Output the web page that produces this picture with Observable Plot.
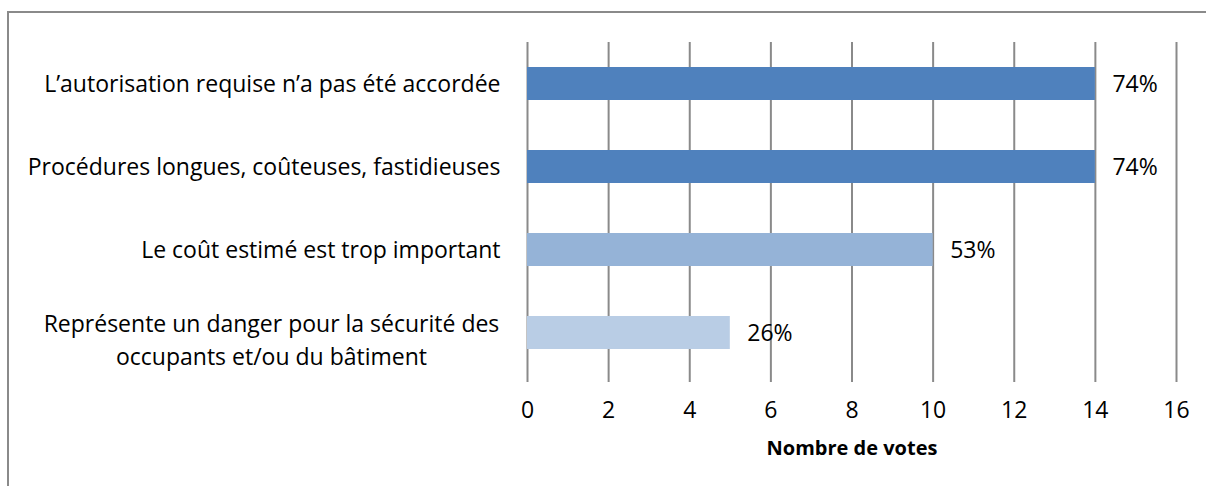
<!DOCTYPE html>
<html>
<head>
<meta charset="utf-8">
<script src="https://cdn.jsdelivr.net/npm/d3@7"></script>
<script src="https://cdn.jsdelivr.net/npm/@observablehq/plot@0.6"></script>
<style>
  html, body { margin: 0; padding: 0; background: #fff; overflow: hidden; }
  #wrap { position: relative; width: 1206px; height: 486px; }
  #frame { position: absolute; left: 7px; top: 11px; width: 1300px; height: 600px;
           border-top: 2px solid #8a8a8a; border-left: 2px solid #8a8a8a; box-sizing: border-box; }
  #chart { position: absolute; left: 0; top: 0; }
</style>
</head>
<body>
<div id="wrap"><div id="frame"></div><div id="chart"></div></div>
<script>
const categories = [
  "L’autorisation requise n’a pas été accordée",
  "Procédures longues, coûteuses, fastidieuses",
  "Le coût estimé est trop important",
  "Représente un danger pour la sécurité des\noccupants et/ou du bâtiment"
];
const votes = [14, 14, 10, 5];
const percents = ["74%", "74%", "53%", "26%"];
const barColors = ["#4F81BD", "#4F81BD", "#95B3D7", "#B9CDE5"];
const xTicks = [0, 2, 4, 6, 8, 10, 12, 14, 16];
const xLabel = "Nombre de votes";

const data = categories.map((c, i) => ({category: c, votes: votes[i], pct: percents[i]}));
const singleLine = categories.filter(c => !c.includes("\n"));
const multiLine = categories.filter(c => c.includes("\n"));

const font = "'Open Sans', Lato, sans-serif";
const grey = "#8a8a8a";
const fs = 23;

const chart = Plot.plot({
  width: 1206,
  height: 486,
  marginLeft: 527,
  marginRight: 30,
  marginTop: 42,
  marginBottom: 111,
  style: {fontFamily: font, fontSize: fs + "px", color: "#000", background: "transparent"},
  x: {domain: [0, 16], axis: null},
  y: {domain: categories, paddingInner: 0.6, paddingOuter: 0.3, axis: null},
  color: {domain: categories, range: barColors},
  marks: [
    Plot.gridX(xTicks, {stroke: grey, strokeOpacity: 1, strokeWidth: 2}),
    Plot.barX(data, {x: "votes", y: "category", fill: "category"}),
    Plot.ruleY([0], {frameAnchor: "bottom", stroke: grey, strokeWidth: 2}),
    Plot.axisX({ticks: xTicks, tickSize: 7, tickPadding: 19, stroke: grey, strokeWidth: 2, label: null, fontSize: fs, fill: "#000"}),
    Plot.text(data, {x: "votes", y: "category", text: "pct", textAnchor: "start", dx: 17, dy: 1, fontSize: fs, fill: "#000"}),
    Plot.text(singleLine, {x: 0, y: d => d, text: d => d, textAnchor: "end", dx: -27, dy: 1, fontSize: fs, fill: "#000"}),
    Plot.text(multiLine, {x: 0, y: d => d, text: d => d, textAnchor: "middle", dx: -256, dy: 5, lineHeight: 1.43, fontSize: fs, fill: "#000"}),
    Plot.text([xLabel], {frameAnchor: "bottom", dy: 79, text: d => d, fontWeight: "bold", fontSize: 20, fill: "#000"})
  ]
});
document.getElementById("chart").appendChild(chart);
</script>
</body>
</html>
